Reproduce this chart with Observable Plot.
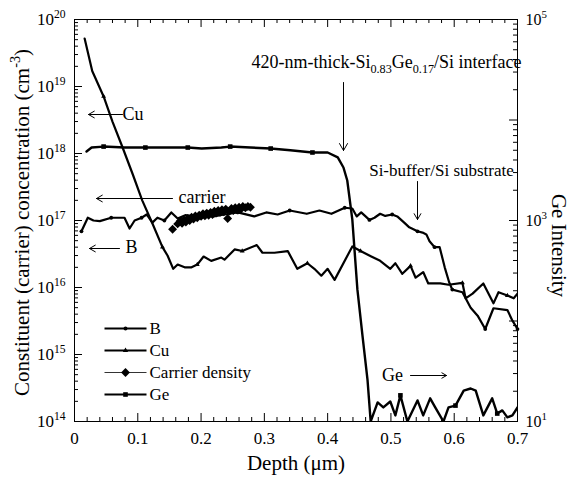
<!DOCTYPE html>
<html><head><meta charset="utf-8">
<script src="https://cdn.jsdelivr.net/npm/d3@7"></script>
<script src="https://cdn.jsdelivr.net/npm/@observablehq/plot@0.6"></script>
<style>body{margin:0;background:#fff}</style>
</head><body><div id="chart"></div>
<script>
// ---- data ----
const bDepth = [0.011,0.021,0.030,0.040,0.058,0.079,0.087,0.095,0.106,0.114,0.123,0.131,0.142,0.153,0.163,0.175,0.190,0.205,0.220,0.237,0.258,0.284,0.303,0.321,0.340,0.367,0.387,0.406,0.427,0.439,0.446,0.453,0.466,0.474,0.483,0.491,0.502,0.510,0.521,0.529,0.542,0.550,0.556,0.561,0.569,0.577,0.585,0.592,0.597,0.613,0.626,0.637,0.649,0.662,0.684,0.692,0.700];
const bConc = [6.9e16,1.1e17,1.0e17,9.8e16,1.1e17,1.1e17,7.6e16,1.0e17,1.1e17,1.23e17,9.3e16,1.1e17,1.0e17,1.32e17,1.07e17,1.2e17,1.15e17,1.2e17,1.15e17,1.23e17,1.32e17,1.15e17,1.32e17,1.23e17,1.41e17,1.26e17,1.41e17,1.26e17,1.55e17,1.51e17,1.15e17,1.32e17,1.02e17,1.10e17,1.26e17,1.17e17,1.23e17,1.15e17,9.3e16,7.9e16,6.9e16,6.6e16,6.2e16,4.9e16,4.0e16,4.0e16,2.0e16,1.2e16,9.3e15,8.5e15,5.0e15,3.8e15,2.4e15,4.9e15,4.6e15,3.2e15,2.4e15];

const cuDepth = [0.016,0.028,0.046,0.060,0.076,0.092,0.107,0.123,0.139,0.147,0.156,0.163,0.174,0.185,0.194,0.204,0.216,0.232,0.237,0.253,0.265,0.288,0.297,0.316,0.337,0.352,0.368,0.379,0.390,0.400,0.411,0.439,0.452,0.469,0.483,0.499,0.507,0.518,0.531,0.539,0.551,0.559,0.578,0.591,0.613,0.618,0.629,0.646,0.662,0.670,0.684,0.694,0.700];
const cuConc = [5.2e19,1.7e19,7.1e18,3.0e18,1.23e18,4.9e17,2.0e17,9.1e16,4.0e16,3.0e16,1.9e16,2.2e16,2.0e16,2.0e16,2.2e16,2.9e16,2.5e16,2.8e16,2.6e16,3.7e16,3.5e16,4.3e16,3.3e16,3.3e16,3.5e16,1.9e16,2.3e16,1.9e16,1.5e16,1.9e16,1.3e16,4.1e16,3.5e16,2.9e16,2.5e16,1.9e16,2.3e16,1.6e16,2.1e16,1.4e16,1.7e16,1.15e16,1.15e16,1.1e16,1.17e16,6.9e15,8.1e15,1.15e16,5.8e15,8.5e15,7.6e15,6.9e15,8.1e15];

const carrierDepth = [0.155,0.163,0.167,0.170,0.173,0.176,0.179,0.182,0.185,0.188,0.191,0.194,0.197,0.200,0.203,0.206,0.209,0.212,0.215,0.218,0.221,0.224,0.227,0.230,0.233,0.236,0.239,0.242,0.245,0.248,0.251,0.254,0.257,0.260,0.263,0.266,0.270,0.274,0.278];
const carrierConc = [7.4e16,8.9e16,9.8e16,9.1e16,1.02e17,9.5e16,1.07e17,1.0e17,1.12e17,1.05e17,1.17e17,1.10e17,1.20e17,1.15e17,1.26e17,1.17e17,1.29e17,1.20e17,1.32e17,1.23e17,1.38e17,1.29e17,1.41e17,1.32e17,1.45e17,1.35e17,1.48e17,1.07e17,1.38e17,1.51e17,1.41e17,1.55e17,1.45e17,1.58e17,1.48e17,1.62e17,1.55e17,1.62e17,1.58e17];

const geDepth = [0.019,0.027,0.046,0.079,0.112,0.147,0.179,0.201,0.232,0.246,0.278,0.310,0.341,0.376,0.400,0.416,0.425,0.431,0.439,0.447,0.455,0.463,0.468,0.479,0.488,0.499,0.507,0.515,0.526,0.542,0.551,0.562,0.570,0.583,0.591,0.602,0.615,0.626,0.634,0.646,0.660,0.668,0.676,0.684,0.692,0.700];
const geIntensity = [4860,5320,5440,5320,5320,5320,5320,5200,5320,5440,5320,5200,5000,4750,4750,4240,3370,2500,1020,206,72,26,10,15.5,13.8,15.8,11.5,18.2,10,16.2,11.5,17,13.8,10,13.8,14.4,20.3,21.3,20.3,11.5,17,12,12.9,11,11.5,13.8];

const xTickLabels = [0,0.1,0.2,0.3,0.4,0.5,0.6,0.7];
const leftTickExp = [14,15,16,17,18,19,20];
const rightTickExp = [1,2,3,4,5];

// ---- layout ----
const W = 571, H = 479, mL = 74, mR = 54, mT = 19, mB = 58;
const fw = W - mL - mR, fh = H - mT - mB;
const px2x = px => (px - mL) / fw * 0.7;
const py2y = py => 10 ** (20 - (py - mT) / fh * 6);
const geToConc = I => 10 ** (14 + 1.5 * (Math.log10(I) - 1));

const bData = bDepth.map((d, i) => ({d, c: bConc[i]}));
const cuData = cuDepth.map((d, i) => ({d, c: cuConc[i]}));
const carData = carrierDepth.map((d, i) => ({d, c: carrierConc[i]}));
const geData = geDepth.map((d, i) => ({d, c: geToConc(geIntensity[i])}));
const geMarkIdx = new Set([2,4,6,9,11,13,27,35,41]);

// ticks
const xMinor = d3.range(0, 36).map(i => i * 0.02).filter(v => v <= 0.7001 && Math.abs(v*10 - Math.round(v*10)) > 1e-6);
const leftMajor = leftTickExp.map(e => 10 ** e);
const leftMinor = leftTickExp.slice(0, -1).flatMap(e => [2,3,4,5,6,7,8,9].map(m => m * 10 ** e));
const rightMajor = rightTickExp.map(e => geToConc(10 ** e));
const rightMinor = rightTickExp.slice(0, -1).flatMap(e => [2,3,4,5,6,7,8,9].map(m => geToConc(m * 10 ** e)));

const font = "'Liberation Serif', 'Times New Roman', serif";

// legend
const legY = [328, 350, 372, 394].map(py2y);
const legNames = ["B", "Cu", "Carrier density", "Ge"];
const legend = legNames.map((n, i) => ({n, y: legY[i], x1: px2x(104), x2: px2x(146), xm: px2x(125), xt: px2x(148)}));

const chart = Plot.plot({
  width: W, height: H,
  marginLeft: mL, marginRight: mR, marginTop: mT, marginBottom: mB,
  style: {fontFamily: font, background: "#fff", color: "#000"},
  x: {domain: [0, 0.7]},
  y: {type: "log", domain: [1e14, 1e20]},
  marks: [
    // curves
    Plot.line(geData, {x: "d", y: "c", stroke: "black", strokeWidth: 2.4, clip: true}),
    Plot.dot(geData.filter((_, i) => geMarkIdx.has(i)), {x: "d", y: "c", symbol: "square", r: 2.6, fill: "black", stroke: null}),
    Plot.line(cuData, {x: "d", y: "c", stroke: "black", strokeWidth: 2.2, clip: true}),
    Plot.dot(cuData.filter((_, i) => i % 6 === 2), {x: "d", y: "c", symbol: "triangle", r: 1.8, fill: "black", stroke: null}),
    Plot.line(bData, {x: "d", y: "c", stroke: "black", strokeWidth: 2.2, clip: true}),
    Plot.dot(bData.filter((_, i) => i % 4 === 0), {x: "d", y: "c", r: 1.9, fill: "black", stroke: null}),
    Plot.dot(carData, {x: "d", y: "c", symbol: "diamond2", r: 4, fill: "black", stroke: null}),

    // legend
    Plot.link(legend, {x1: "x1", x2: "x2", y1: "y", y2: "y", stroke: "black",
      strokeWidth: d => d.n === "Carrier density" ? 0.8 : 2,
      strokeDasharray: d => d.n === "Carrier density" ? "3,3" : null}),
    Plot.dot(legend.filter(d => d.n === "B"), {x: "xm", y: "y", r: 2, fill: "black", stroke: null}),
    Plot.dot(legend.filter(d => d.n === "Cu"), {x: "xm", y: "y", symbol: "triangle", r: 2, fill: "black", stroke: null}),
    Plot.dot(legend.filter(d => d.n === "Carrier density"), {x: "xm", y: "y", symbol: "diamond2", r: 4, fill: "black", stroke: null}),
    Plot.dot(legend.filter(d => d.n === "Ge"), {x: "xm", y: "y", symbol: "square", r: 2.6, fill: "black", stroke: null}),
    Plot.text(legend, {x: "xt", y: "y", text: "n", textAnchor: "start", fontSize: 17, dx: 1}),

    // annotations
    Plot.arrow([{x1: px2x(122), x2: px2x(88), y: py2y(114)}], {x1: "x1", x2: "x2", y1: "y", y2: "y", stroke: "black", strokeWidth: 1, headLength: 10}),
    Plot.text([{x: px2x(122), y: py2y(114), t: "Cu"}], {x: "x", y: "y", text: "t", textAnchor: "start", fontSize: 18}),
    Plot.arrow([{x1: px2x(172), x2: px2x(96), y: py2y(198)}], {x1: "x1", x2: "x2", y1: "y", y2: "y", stroke: "black", strokeWidth: 1, headLength: 10}),
    Plot.text([{x: px2x(178), y: py2y(197), t: "carrier"}], {x: "x", y: "y", text: "t", textAnchor: "start", fontSize: 18}),
    Plot.arrow([{x1: px2x(119), x2: px2x(89), y: py2y(248)}], {x1: "x1", x2: "x2", y1: "y", y2: "y", stroke: "black", strokeWidth: 1, headLength: 10}),
    Plot.text([{x: px2x(125), y: py2y(247), t: "B"}], {x: "x", y: "y", text: "t", textAnchor: "start", fontSize: 18}),
    Plot.text([{x: px2x(386), y: py2y(62), t: "420-nm-thick-Si_{0.83}Ge_{0.17}/Si interface"}], {x: "x", y: "y", text: "t", fontSize: 18}),
    Plot.arrow([{x: px2x(343), y1: py2y(82), y2: py2y(150)}], {x1: "x", x2: "x", y1: "y1", y2: "y2", stroke: "black", strokeWidth: 1, headLength: 12}),
    Plot.text([{x: px2x(441), y: py2y(170), t: "Si-buffer/Si substrate"}], {x: "x", y: "y", text: "t", fontSize: 17}),
    Plot.arrow([{x: px2x(417), y1: py2y(181), y2: py2y(219)}], {x1: "x", x2: "x", y1: "y1", y2: "y2", stroke: "black", strokeWidth: 1, headLength: 10}),
    Plot.text([{x: px2x(392), y: py2y(375), t: "Ge"}], {x: "x", y: "y", text: "t", fontSize: 18}),
    Plot.arrow([{x1: px2x(410), x2: px2x(446), y: py2y(375)}], {x1: "x1", x2: "x2", y1: "y", y2: "y", stroke: "black", strokeWidth: 1, headLength: 8}),

    // inward ticks
    Plot.tickX(xTickLabels, {x: d => d, insetTop: fh - 8, stroke: "black"}),
    Plot.tickX(xMinor, {x: d => d, insetTop: fh - 4, stroke: "black"}),
    Plot.tickX(xTickLabels, {x: d => d, insetBottom: fh - 8, stroke: "black"}),
    Plot.tickX(xMinor, {x: d => d, insetBottom: fh - 4, stroke: "black"}),
    Plot.tickY(leftMajor, {y: d => d, insetRight: fw - 8, stroke: "black"}),
    Plot.tickY(leftMinor, {y: d => d, insetRight: fw - 4, stroke: "black"}),
    Plot.tickY(rightMajor, {y: d => d, insetLeft: fw - 8, stroke: "black"}),
    Plot.tickY(rightMinor, {y: d => d, insetLeft: fw - 4, stroke: "black"}),

    // axes labels
    Plot.axisX(xTickLabels, {anchor: "bottom", tickSize: 0, tickPadding: 10, fontSize: 17, label: null,
      tickFormat: d => d === 0 ? "0" : d.toFixed(1)}),
    Plot.axisY(leftMajor, {anchor: "left", tickSize: 0, tickPadding: 9, fontSize: 17, label: null,
      tickFormat: d => "10^{" + Math.round(Math.log10(d)) + "}"}),
    Plot.axisY(rightMajor, {anchor: "right", tickSize: 0, tickPadding: 8, fontSize: 16, label: null,
      tickFormat: d => "10^{" + Math.round(1 + (Math.log10(d) - 14) / 1.5) + "}"}),
    Plot.text(["Depth (μm)"], {frameAnchor: "bottom", textAnchor: "middle", lineAnchor: "middle", dy: 42, fontSize: 21, text: d => d}),
    Plot.text(["Constituent (carrier) concentration (cm^{-3})"], {frameAnchor: "left", textAnchor: "middle", lineAnchor: "middle", dx: -52, dy: 2, rotate: -90, fontSize: 21, text: d => d}),
    Plot.text(["Ge Intensity"], {frameAnchor: "right", textAnchor: "middle", lineAnchor: "middle", dx: 41, dy: 25, rotate: 90, fontSize: 21, text: d => d}),

    Plot.frame({stroke: "black", strokeWidth: 1})
  ]
});

document.getElementById("chart").appendChild(chart);

// rich text: ^{..} superscript, _{..} subscript
const NS = "http://www.w3.org/2000/svg";
chart.querySelectorAll("text").forEach(el => {
  const s = el.textContent;
  if (!/[\^_]\{/.test(s)) return;
  const fs = parseFloat(getComputedStyle(el).fontSize) || 16;
  while (el.firstChild) el.removeChild(el.firstChild);
  let cur = 0, last = 0, m;
  const re = /([\^_])\{([^}]*)\}/g;
  const add = (txt, target, small) => {
    const t = document.createElementNS(NS, "tspan");
    t.textContent = txt;
    const dy = target - cur;
    if (Math.abs(dy) > 1e-6) t.setAttribute("dy", dy.toFixed(2));
    if (small) t.setAttribute("font-size", (fs * 0.68).toFixed(1));
    cur = target;
    el.appendChild(t);
  };
  while ((m = re.exec(s))) {
    if (m.index > last) add(s.slice(last, m.index), 0, false);
    add(m[2], m[1] === "^" ? -fs * 0.42 : fs * 0.28, true);
    last = re.lastIndex;
  }
  if (last < s.length) add(s.slice(last), 0, false);
});
</script>
</body></html>
